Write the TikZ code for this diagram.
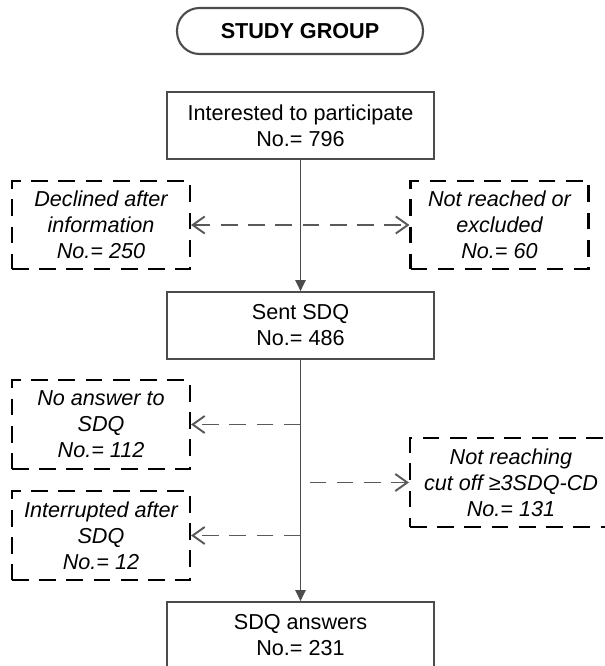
\documentclass[tikz,border=0pt]{standalone}
\usepackage{fontspec}
\setmainfont{Liberation Sans}
\usetikzlibrary{arrows.meta}
\begin{document}
\begin{tikzpicture}[x=0.02cm,y=-0.02cm,
 font=\fontsize{12.3}{14.8}\selectfont,
 startbox/.style={draw=black!70,line width=1.2pt,rounded corners=0.45cm,minimum width=4.92cm,minimum height=0.92cm,inner sep=0pt,font=\fontsize{12.3}{14.8}\selectfont\bfseries},
 mainbox/.style={draw=black!70,line width=0.9pt,minimum width=5.34cm,minimum height=1.34cm,inner sep=0pt,align=center},
 exclbox/.style={draw=black,line width=1.2pt,dash pattern=on 9.5pt off 6pt,minimum width=3.56cm,minimum height=1.77cm,inner sep=0pt,align=center,font=\fontsize{12.3}{14.8}\selectfont\itshape},
 flow/.style={draw=black!70,line width=1.1pt,-{Triangle[length=0.22cm,width=0.2cm]}},
 drop/.style={draw=black!65,line width=1.1pt,dash pattern=on 9.5pt off 6pt,>={Straight Barb[length=0.24cm,width=0.34cm]}}]
 \useasboundingbox (0,0) rectangle (605,666);
 \node[startbox] (group) at (300,31) {STUDY GROUP};
 \node[mainbox] (interested) at (300.5,125.5) {Interested to participate\\No.= 796};
 \node[exclbox] (declined) at (101,225) {Declined after\\information\\No.= 250};
 \node[exclbox] (notreached) at (499.5,225) {Not reached or\\excluded\\No.= 60};
 \node[mainbox] (sent) at (300.5,325.5) {Sent SDQ\\No.= 486};
 \node[exclbox] (noanswer) at (101,424.5) {No answer to\\SDQ\\No.= 112};
 \node[exclbox] (interrupted) at (101,535.5) {Interrupted after\\SDQ\\No.= 12};
 \node[exclbox,minimum width=4.04cm] (cutoff) at (511,482.5) {Not reaching\\cut off ≥3SDQ-CD\\No.= 131};
 \node[mainbox] (answers) at (300.5,635.5) {SDQ answers\\No.= 231};
 \coordinate (s1) at (sent.south |- noanswer.east);
 \coordinate (s2) at (sent.south |- interrupted.east);
 \coordinate (s3) at (sent.south |- cutoff.west);
 \draw[drop,<->] (declined) -- (notreached);
 \draw[drop,->] (s1) -- (noanswer);
 \draw[drop,->] (s2) -- (interrupted);
 \draw[drop,->] ([xshift=0.18cm]s3) -- (cutoff);
 \draw[flow] (interested) -- (sent);
 \draw[flow] (sent) -- (answers);
\end{tikzpicture}
\end{document}
